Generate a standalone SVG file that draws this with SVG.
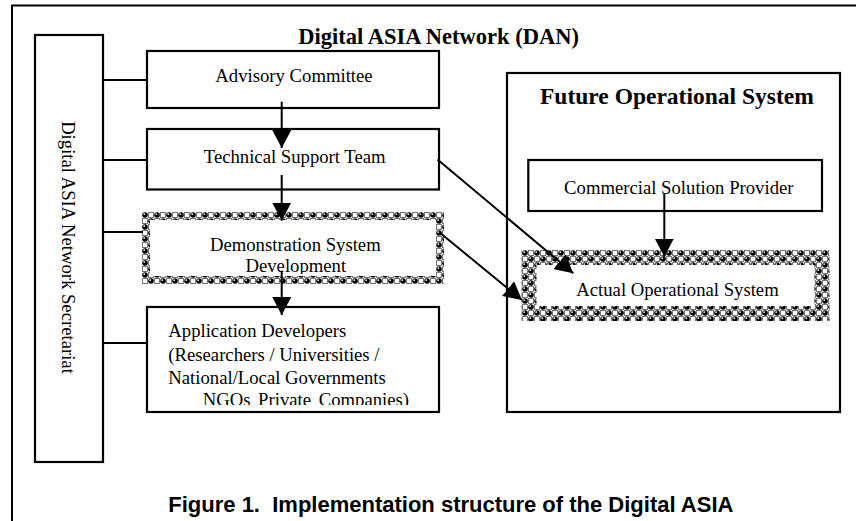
<svg xmlns="http://www.w3.org/2000/svg" width="856" height="521" viewBox="0 0 856 521">
<style>
.box{fill:#fff;stroke:#000;stroke-width:2.2}
.t{font-family:"Liberation Serif","Times New Roman",serif;font-size:18.7px;fill:#000}
.tb{font-family:"Liberation Serif","Times New Roman",serif;font-weight:bold;fill:#000}
.ln{stroke:#000;stroke-width:2;fill:none}
.ar{stroke:#000;stroke-width:2;fill:none;marker-end:url(#ah)}
.cap{font-family:"Liberation Sans",Arial,sans-serif;font-weight:bold;font-size:22px;fill:#000}
</style>
<defs>
<marker id="ah" markerUnits="userSpaceOnUse" markerWidth="18" markerHeight="19" viewBox="0 0 18 19" refX="18" refY="9.5" orient="auto"><path d="M0,0 L18,9.5 L0,19 Z" fill="#000"/></marker>
<pattern id="beads" patternUnits="userSpaceOnUse" width="12" height="12" x="142" y="212">
<rect width="12" height="12" fill="#fff"/>
<rect x="6.5" y="0.5" width="5" height="5" fill="#fff" stroke="#777" stroke-width="1"/>
<rect x="0.5" y="6.5" width="5" height="5" fill="#fff" stroke="#777" stroke-width="1"/>
<circle cx="3" cy="3" r="2.8" fill="#000"/><circle cx="2.2" cy="2.1" r="0.9" fill="#fff"/>
<circle cx="9" cy="9" r="2.8" fill="#000"/><circle cx="8.2" cy="8.1" r="0.9" fill="#fff"/>
</pattern>
<pattern id="beads2" patternUnits="userSpaceOnUse" width="12" height="12" x="522" y="250">
<rect width="12" height="12" fill="#fff"/>
<rect x="6.5" y="0.5" width="5" height="5" fill="#fff" stroke="#777" stroke-width="1"/>
<rect x="0.5" y="6.5" width="5" height="5" fill="#fff" stroke="#777" stroke-width="1"/>
<circle cx="3" cy="3" r="2.8" fill="#000"/><circle cx="2.2" cy="2.1" r="0.9" fill="#fff"/>
<circle cx="9" cy="9" r="2.8" fill="#000"/><circle cx="8.2" cy="8.1" r="0.9" fill="#fff"/>
</pattern>
<clipPath id="clipDemo"><rect x="150" y="220" width="286" height="54"/></clipPath>
<clipPath id="clipApp"><rect x="148" y="308" width="290" height="97"/></clipPath>
</defs>
<rect width="856" height="521" fill="#fff"/>
<path d="M12,521 V5.5 H856" class="ln" stroke-width="2.2"/>
<text class="tb" x="298.3" y="44" font-size="22.5">Digital ASIA Network (DAN)</text>

<g id="secretariat">
<rect class="box" x="35" y="35" width="68" height="427"/>
<text class="t" text-anchor="middle" transform="translate(62,247.5) rotate(90)">Digital ASIA Network Secretariat</text>
</g>
<g id="advisory">
<rect class="box" x="147" y="51" width="292" height="57"/>
<text class="t" x="294" y="82.3" text-anchor="middle">Advisory Committee</text>
</g>
<g id="technical">
<rect class="box" x="147" y="129" width="292" height="60.5"/>
<text class="t" x="294.7" y="162.7" text-anchor="middle">Technical Support Team</text>
</g>
<g id="demo">
<rect x="146" y="216" width="294" height="64" fill="#fff" stroke="url(#beads)" stroke-width="8"/>
<g clip-path="url(#clipDemo)">
<text class="t" x="295.3" y="250.5" text-anchor="middle">Demonstration System</text>
<text class="t" x="295.8" y="271.7" text-anchor="middle">Development</text>
</g>
</g>
<g id="appdev">
<rect class="box" x="147" y="307" width="292" height="105"/>
<g clip-path="url(#clipApp)">
<text class="t" x="168.3" y="337">Application Developers</text>
<text class="t" x="168.3" y="360.5">(Researchers / Universities /</text>
<text class="t" x="168.3" y="383.5">National/Local Governments</text>
<text class="t" x="202.7" y="405.5" word-spacing="3">NGOs Private Companies)</text>
</g>
</g>
<g id="future">
<rect class="box" x="507" y="73" width="333" height="339"/>
<text class="tb" x="540" y="104" font-size="23.5">Future Operational System</text>
</g>
<g id="commercial">
<rect class="box" x="528.3" y="160" width="293.7" height="51"/>
<text class="t" x="678.8" y="194" text-anchor="middle">Commercial Solution Provider</text>
</g>
<g id="actual">
<rect x="529" y="257.5" width="293" height="56" fill="#fff" stroke="url(#beads2)" stroke-width="15"/>
<text class="t" x="677.5" y="296" text-anchor="middle">Actual Operational System</text>
</g>

<g id="connectors">
<line class="ln" x1="104" y1="80" x2="147" y2="80"/>
<line class="ln" x1="104" y1="160" x2="147" y2="160"/>
<line class="ln" x1="104" y1="232" x2="143" y2="232"/>
<line class="ln" x1="104" y1="343" x2="147" y2="343"/>
<line class="ar" x1="281.7" y1="101.7" x2="281.7" y2="148"/>
<line class="ar" x1="281.7" y1="175" x2="281.7" y2="220.7"/>
<line class="ar" x1="281.7" y1="270.7" x2="281.7" y2="315"/>
<line class="ar" x1="664.3" y1="193.3" x2="664.3" y2="256.7"/>
<line class="ar" x1="437.5" y1="159.5" x2="573.3" y2="273.3"/>
<line class="ar" x1="440.5" y1="233.3" x2="522" y2="300"/>
</g>

<text class="cap" x="168.3" y="512" xml:space="preserve">Figure 1.  Implementation structure of the Digital ASIA</text>
</svg>
